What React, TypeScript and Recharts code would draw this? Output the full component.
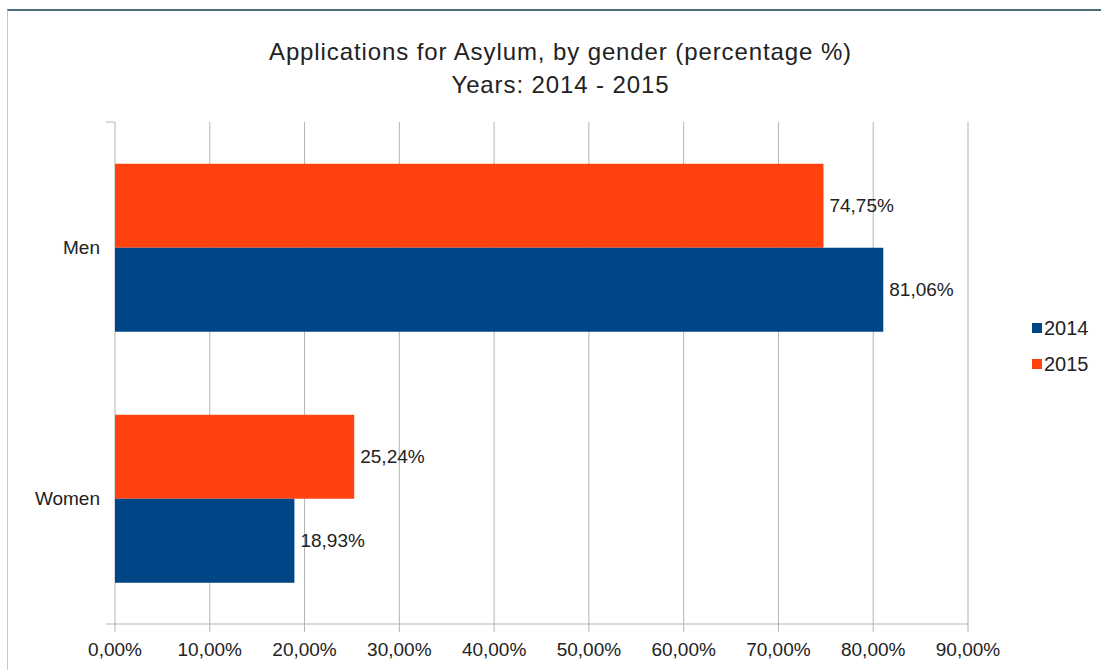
import React from 'react';
import { BarChart, Bar, XAxis, YAxis, CartesianGrid, LabelList, ReferenceLine } from 'recharts';

// values
const categories = ['Men', 'Women'];
const values2014 = [81.06, 18.93];
const values2015 = [74.75, 25.24];
const xTicks = [0, 10, 20, 30, 40, 50, 60, 70, 80, 90];
const seriesNames = ['2014', '2015'];
const seriesColors = ['#004586', '#ff420e'];

const FONT = '"Liberation Sans", Arial, sans-serif';
const GRID = '#b3b3b3';
const TEXT = '#222';

const chartData = categories.map((name, i) => ({
    name,
    y2014: values2014[i],
    y2015: values2015[i],
}));

const pct = (v: number) => `${Number(v).toFixed(2).replace('.', ',')}%`;

const App: React.FC = () => {
    return (
        <div style={{ position: 'absolute', left: 0, top: 0, width: 1101, height: 670, background: '#fff', fontFamily: FONT, overflow: 'hidden' }}>
            {/* frame lines of the original screenshot */}
            <div style={{ position: 'absolute', left: 7, top: 9, width: 1100, height: 670, borderTop: '2px solid #4d6b7b', borderLeft: '1px solid #bccad4' }} />

            <div style={{ position: 'absolute', left: 0, top: 35, width: 1121, textAlign: 'center', fontSize: 24, lineHeight: '33px', letterSpacing: 0.9, color: TEXT }}>
                <div>Applications for Asylum, by gender (percentage %)</div>
                <div>Years: 2014 - 2015</div>
            </div>

            <BarChart
                width={1101}
                height={670}
                data={chartData}
                layout="vertical"
                margin={{ top: 122, right: 133, bottom: 0, left: 0 }}
                barCategoryGap="16.6%"
                barGap={0}
                style={{ position: 'absolute', left: 0, top: 0 }}
            >
                <CartesianGrid horizontal={false} stroke={GRID} strokeWidth={1} />
                <XAxis
                    type="number"
                    domain={[0, 90]}
                    ticks={xTicks}
                    tickFormatter={pct}
                    height={46}
                    tickSize={8}
                    tickMargin={11}
                    axisLine={{ stroke: GRID }}
                    tickLine={{ stroke: GRID }}
                    tick={{ fill: TEXT, fontSize: 19, fontFamily: FONT }}
                />
                <YAxis
                    yAxisId="cat"
                    type="category"
                    dataKey="name"
                    width={115}
                    tickSize={9}
                    tickMargin={6}
                    axisLine={false}
                    tickLine={false}
                    tick={{ fill: TEXT, fontSize: 19, fontFamily: FONT }}
                />
                <YAxis yAxisId="frame" type="number" domain={[0, 2]} hide />
                <ReferenceLine yAxisId="frame" ifOverflow="visible" stroke={GRID} segment={[{ x: -0.95, y: 2 }, { x: 90, y: 2 }]} />
                <ReferenceLine yAxisId="frame" ifOverflow="visible" stroke={GRID} segment={[{ x: -0.95, y: 1 }, { x: 0, y: 1 }]} />
                <ReferenceLine yAxisId="frame" ifOverflow="visible" stroke={GRID} segment={[{ x: -0.95, y: 0 }, { x: 0, y: 0 }]} />
                <Bar yAxisId="cat" dataKey="y2015" name="2015" fill={seriesColors[1]} isAnimationActive={false}>
                    <LabelList dataKey="y2015" position="right" offset={6} formatter={pct} fill={TEXT} fontSize={19} fontFamily={FONT} />
                </Bar>
                <Bar yAxisId="cat" dataKey="y2014" name="2014" fill={seriesColors[0]} isAnimationActive={false}>
                    <LabelList dataKey="y2014" position="right" offset={6} formatter={pct} fill={TEXT} fontSize={19} fontFamily={FONT} />
                </Bar>
            </BarChart>

            <div style={{ position: 'absolute', left: 1032, top: 310, fontSize: 20, color: TEXT }}>
                {seriesNames.map((s, i) => (
                    <div key={s} style={{ display: 'flex', alignItems: 'center', height: 36 }}>
                        <span style={{ display: 'inline-block', width: 10, height: 10, background: seriesColors[i], marginRight: 2 }} />
                        <span>{s}</span>
                    </div>
                ))}
            </div>
        </div>
    );
};

export default App;
